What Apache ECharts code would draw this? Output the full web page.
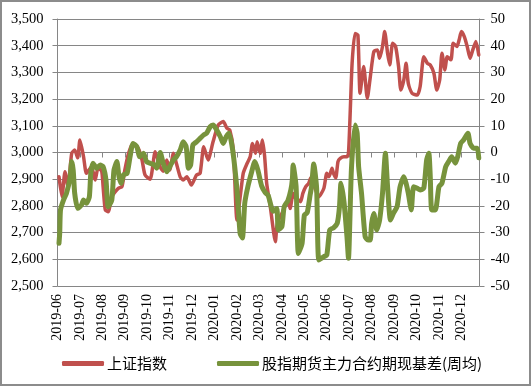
<!DOCTYPE html>
<html>
<head>
<meta charset="utf-8">
<script src="https://cdn.jsdelivr.net/npm/echarts@6/dist/echarts.min.js"></script>
<style>
html,body{margin:0;padding:0;background:#fff;}
#chart{width:531px;height:386px;}
</style>
</head>
<body>
<div id="chart"></div>
<script>
const monthLabels = ['2019-06','2019-07','2019-08','2019-09','2019-10','2019-11','2019-12','2020-01','2020-02','2020-03','2020-04','2020-05','2020-06','2020-07','2020-08','2020-09','2020-10','2020-11','2020-12'];

const redName = '上证指数';
const greenName = '股指期货主力合约期现基差(周均)';

const redDates = ['2019-06-03','2019-06-07','2019-06-11','2019-06-15','2019-06-20','2019-06-24','2019-06-28','2019-07-01','2019-07-06','2019-07-10','2019-07-17','2019-07-22','2019-07-26','2019-07-31','2019-08-02','2019-08-05','2019-08-09','2019-08-14','2019-08-18','2019-08-23','2019-08-28','2019-09-01','2019-09-06','2019-09-12','2019-09-19','2019-09-24','2019-09-28','2019-10-05','2019-10-12','2019-10-19','2019-10-23','2019-10-28','2019-11-01','2019-11-06','2019-11-10','2019-11-15','2019-11-19','2019-11-24','2019-11-30','2019-12-07','2019-12-12','2019-12-17','2019-12-23','2019-12-30','2020-01-06','2020-01-13','2020-01-18','2020-01-22','2020-01-27','2020-02-01','2020-02-09','2020-02-14','2020-02-18','2020-02-21','2020-02-25','2020-02-27','2020-03-02','2020-03-05','2020-03-08','2020-03-11','2020-03-16','2020-03-23','2020-03-25','2020-03-28','2020-04-01','2020-04-05','2020-04-10','2020-04-12','2020-04-16','2020-04-19','2020-04-23','2020-04-26','2020-04-29','2020-05-03','2020-05-07','2020-05-10','2020-05-14','2020-05-21','2020-05-28','2020-06-01','2020-06-04','2020-06-08','2020-06-10','2020-06-13','2020-06-16','2020-06-19','2020-06-24','2020-06-28','2020-06-30','2020-07-02','2020-07-05','2020-07-09','2020-07-13','2020-07-16','2020-07-21','2020-07-26','2020-07-30','2020-08-04','2020-08-09','2020-08-12','2020-08-16','2020-08-19','2020-08-23','2020-08-26','2020-08-30','2020-09-03','2020-09-07','2020-09-10','2020-09-14','2020-09-17','2020-09-20','2020-09-25','2020-10-02','2020-10-06','2020-10-11','2020-10-16','2020-10-20','2020-10-25','2020-10-29','2020-11-02','2020-11-05','2020-11-09','2020-11-12','2020-11-17','2020-11-20','2020-11-25','2020-11-28','2020-12-01','2020-12-05','2020-12-09','2020-12-13','2020-12-16','2020-12-21','2020-12-25'];
const redValues = [2909,2834,2928,2872,2997,3009,2980,3047,2984,2922,2947,2897,2941,2931,2872,2785,2778,2834,2850,2866,2872,2934,2997,3034,3016,2972,2916,2900,3003,2945,2930,2972,2934,2997,2959,2909,2897,2909,2878,2916,2922,3022,2972,3041,3103,3116,3091,3084,3009,2747,2922,2959,2984,3034,2997,3040,2997,3047,2990,2884,2797,2666,2722,2750,2772,2797,2816,2790,2847,2830,2822,2816,2847,2872,2884,2905,2880,2834,2866,2922,2909,2941,2922,2905,2966,2978,2984,2984,2997,3122,3334,3446,3440,3222,3322,3203,3280,3378,3384,3353,3397,3453,3372,3328,3409,3397,3322,3234,3272,3334,3259,3222,3215,3247,3359,3334,3328,3297,3234,3272,3372,3309,3359,3347,3409,3397,3422,3453,3434,3397,3353,3378,3416,3365];

const greenDates = ['2019-06-03','2019-06-04','2019-06-05','2019-06-09','2019-06-13','2019-06-18','2019-06-20','2019-06-22','2019-06-24','2019-06-28','2019-07-03','2019-07-06','2019-07-10','2019-07-14','2019-07-16','2019-07-19','2019-07-24','2019-07-29','2019-08-02','2019-08-06','2019-08-09','2019-08-14','2019-08-17','2019-08-21','2019-08-24','2019-08-27','2019-08-30','2019-09-04','2019-09-08','2019-09-12','2019-09-17','2019-09-21','2019-09-26','2019-09-30','2019-10-05','2019-10-11','2019-10-14','2019-10-19','2019-10-23','2019-10-28','2019-11-01','2019-11-06','2019-11-10','2019-11-15','2019-11-19','2019-11-23','2019-11-26','2019-11-29','2019-12-02','2019-12-07','2019-12-12','2019-12-17','2019-12-21','2019-12-26','2019-12-30','2020-01-04','2020-01-09','2020-01-13','2020-01-17','2020-01-21','2020-01-26','2020-02-01','2020-02-05','2020-02-08','2020-02-11','2020-02-15','2020-02-20','2020-02-24','2020-02-28','2020-03-04','2020-03-09','2020-03-13','2020-03-20','2020-03-25','2020-03-27','2020-04-01','2020-04-04','2020-04-09','2020-04-13','2020-04-15','2020-04-16','2020-04-20','2020-04-23','2020-04-28','2020-05-01','2020-05-05','2020-05-09','2020-05-11','2020-05-14','2020-05-18','2020-05-21','2020-05-28','2020-06-01','2020-06-05','2020-06-10','2020-06-15','2020-06-18','2020-06-20','2020-06-24','2020-06-28','2020-06-30','2020-07-04','2020-07-09','2020-07-12','2020-07-14','2020-07-18','2020-07-23','2020-07-27','2020-07-30','2020-08-01','2020-08-04','2020-08-08','2020-08-12','2020-08-16','2020-08-20','2020-08-23','2020-08-27','2020-08-31','2020-09-05','2020-09-09','2020-09-14','2020-09-17','2020-09-20','2020-09-24','2020-09-27','2020-10-02','2020-10-06','2020-10-11','2020-10-15','2020-10-18','2020-10-20','2020-10-22','2020-10-27','2020-11-01','2020-11-05','2020-11-10','2020-11-14','2020-11-18','2020-11-23','2020-11-26','2020-11-30','2020-12-04','2020-12-10','2020-12-13','2020-12-18','2020-12-23','2020-12-25'];
const greenValues = [-34,-30,-21.5,-17.8,-15.3,-9.1,-3.4,-6.6,-15.3,-20.9,-19.7,-17.8,-19,-16.6,-7.8,-4.0,-5.9,-4.7,-5.3,-10.3,-20.3,-17.8,-6.6,-3.4,-9.1,-11.5,-8.4,-7.8,-1.6,3.4,2.2,-1.6,-0.3,-3.4,-4.0,-4.7,-5.9,0,-4.0,-7.2,-5.3,-2.8,-1.6,0.9,4.0,2.2,-5.9,-4.7,2.8,4,5.3,6.6,7.2,9.7,10.3,8.4,5.9,3.4,5.9,7.2,0.9,-14,-30.3,-32,-19,-12.8,-7.2,-3.4,-6.6,-12.5,-15,-16,-22,-21,-29,-27.8,-20.3,-18,-14,-10,-4.7,-12.8,-37.8,-34,-23.5,-22.5,-15.9,-12.8,-4.3,-13.4,-40.3,-39,-38.5,-29,-28.2,-26.5,-20.3,-11.5,-18.5,-31.5,-39.6,-6.6,10.3,7.2,-5.3,-15.3,-31.5,-32.8,-32.8,-26.5,-22.8,-29,-25.3,-15.3,-0.3,-12.8,-25.3,-22.8,-20.3,-12.8,-9.1,-11.5,-15.3,-21.5,-12.8,-13.4,-14,-13.4,-2.8,-0.3,-9.1,-21.5,-21.5,-12.8,-11.5,-5.3,-3.4,-1.6,-4,-1.6,3.4,4.7,7.2,3.4,1.6,1.6,-2];

const axisStart = '2019-06-01';
const axisEnd = '2020-12-26';

function monthPos(s) {
  const p = s.split('-').map(Number);
  const b = axisStart.split('-').map(Number);
  const dim = new Date(p[0], p[1], 0).getDate();
  return (p[0] - b[0]) * 12 + (p[1] - b[1]) + (p[2] - 1) / dim;
}

const redData = redDates.map((d, i) => [monthPos(d), redValues[i]]);
const greenData = greenDates.map((d, i) => [monthPos(d), greenValues[i]]);

const serif = '"Liberation Serif", "Times New Roman", serif';
const gridColor = '#868686';

const chart = echarts.init(document.getElementById('chart'), null, {renderer: 'canvas'});
chart.setOption({
  animation: false,
  backgroundColor: '#fff',
  graphic: [{
    type: 'rect', silent: true,
    shape: {x: 1, y: 1, width: 529, height: 384},
    style: {fill: 'none', stroke: '#8c8c8c', lineWidth: 2}
  }],
  grid: {left: 57.5, right: 51.5, top: 19, bottom: 100, containLabel: false},
  legend: {
    left: 57, top: 351,
    itemWidth: 42, itemHeight: 5, itemGap: 50,
    icon: 'roundRect',
    textStyle: {fontFamily: '"Noto Sans CJK SC", sans-serif', fontSize: 15, color: '#000', padding: [0, 0, 0, -2]},
    data: [redName, greenName]
  },
  xAxis: {
    type: 'value', min: 0, max: monthPos(axisEnd), interval: 1,
    axisLine: {lineStyle: {color: gridColor, width: 1}},
    axisTick: {show: true, length: 5, lineStyle: {color: gridColor}},
    splitLine: {show: false},
    axisLabel: {
      rotate: 90, margin: 8, fontFamily: serif, fontSize: 14, color: '#000',
      showMaxLabel: false,
      formatter: v => (Math.abs(v - Math.round(v)) < 1e-6 && monthLabels[Math.round(v)]) ? monthLabels[Math.round(v)] : ''
    }
  },
  yAxis: [{
    type: 'value', min: 2500, max: 3500, interval: 100, position: 'left',
    axisLine: {show: true, lineStyle: {color: gridColor}},
    axisTick: {show: true, length: 5, lineStyle: {color: gridColor}},
    splitLine: {show: true, lineStyle: {color: gridColor, width: 1}},
    axisLabel: {margin: 14, fontFamily: serif, fontSize: 14.5, color: '#000',
      formatter: v => v.toLocaleString('en-US')}
  }, {
    type: 'value', min: -50, max: 50, interval: 10, position: 'right',
    axisLine: {show: true, lineStyle: {color: gridColor}},
    axisTick: {show: true, length: 5, lineStyle: {color: gridColor}},
    splitLine: {show: false},
    axisLabel: {margin: 11, fontFamily: serif, fontSize: 14.5, color: '#000'}
  }],
  series: [{
    name: redName, type: 'line', yAxisIndex: 0, data: redData,
    showSymbol: false, symbol: 'none', smooth: 0.2,
    itemStyle: {color: '#c0504d'},
    lineStyle: {color: '#c0504d', width: 3.5, cap: 'round', join: 'round'}
  }, {
    name: greenName, type: 'line', yAxisIndex: 1, data: greenData,
    showSymbol: false, symbol: 'none', smooth: 0.2,
    itemStyle: {color: '#77933c'},
    lineStyle: {color: '#77933c', width: 5, cap: 'round', join: 'round'}
  }]
});
</script>
</body>
</html>
